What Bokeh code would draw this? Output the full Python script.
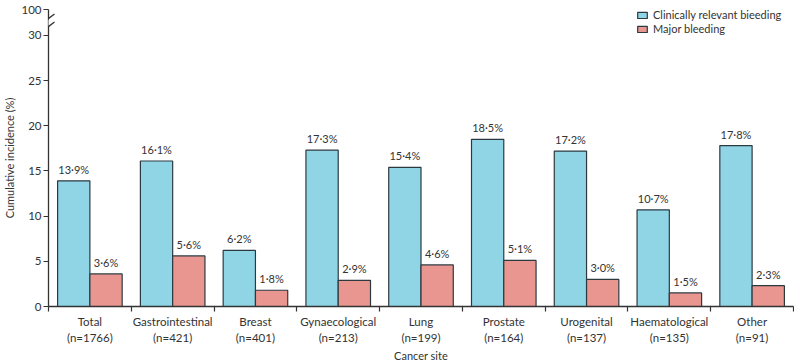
from bokeh.plotting import figure
from bokeh.models import (ColumnDataSource, Range1d, FixedTicker, CustomJSTickFormatter,
                          Legend, LegendItem, Arrow, PolyAnnotation)
from bokeh.transform import dodge
from bokeh.core.properties import value
from bokeh.embed import file_html
from bokeh.resources import INLINE

# ---- data ----
categories = ["Total", "Gastrointestinal", "Breast", "Gynaecological", "Lung",
              "Prostate", "Urogenital", "Haematological", "Other"]
n_patients = [1766, 421, 401, 213, 199, 164, 137, 135, 91]
clinically_relevant = [13.9, 16.1, 6.2, 17.3, 15.4, 18.5, 17.2, 10.7, 17.8]
major_bleeding = [3.6, 5.6, 1.8, 2.9, 4.6, 5.1, 3.0, 1.5, 2.3]
series_names = ["Clinically relevant bieeding", "Major bleeding"]
y_ticks = [0, 5, 10, 15, 20, 25, 30, 32.86]
y_tick_labels = ["0", "5", "10", "15", "20", "25", "30", "100"]

FONT = "Lato"
BLUE = "#8fd5e6"
RED = "#e8968f"
EDGE = "#2c3a40"
TXT = "#333333"

def fmt(v):
    return f"{v:.1f}".replace(".", "\u00b7") + "%"

x_labels = [f"{c}\n(n={n})" for c, n in zip(categories, n_patients)]

src = ColumnDataSource(dict(
    xc=[i + 0.5 for i in range(len(categories))],
    crb=clinically_relevant,
    mb=major_bleeding,
    crb_lbl=[fmt(v) for v in clinically_relevant],
    mb_lbl=[fmt(v) for v in major_bleeding],
))

FW, FH = 745, 297
p = figure(frame_width=FW, frame_height=FH,
           x_range=Range1d(0, len(categories)), y_range=Range1d(0, y_ticks[-1]),
           output_backend="svg", toolbar_location=None,
           min_border_left=38, min_border_right=1, min_border_top=9, min_border_bottom=5,
           outline_line_color=None, background_fill_color="white")
p.xgrid.visible = False
p.ygrid.visible = False

r1 = p.vbar(x=dodge("xc", -0.195, range=p.x_range), top="crb", width=0.39, source=src,
            fill_color=BLUE, line_color=EDGE, line_width=1.2)
r2 = p.vbar(x=dodge("xc", 0.195, range=p.x_range), top="mb", width=0.39, source=src,
            fill_color=RED, line_color=EDGE, line_width=1.2)

for col, lbl, off in [("crb", "crb_lbl", -0.195), ("mb", "mb_lbl", 0.195)]:
    p.text(x=dodge("xc", off, range=p.x_range), y=col, text=lbl, source=src,
           y_offset=-5, text_align="center", text_baseline="bottom",
           text_font=value(FONT), text_font_size="11px", text_color=TXT)

# x axis
xa = p.xaxis[0]
xa.ticker = FixedTicker(ticks=[i + 0.5 for i in range(len(categories))],
                        minor_ticks=list(range(len(categories) + 1)))
xa.formatter = CustomJSTickFormatter(args=dict(labels=x_labels),
                                     code="return labels[Math.floor(tick)];")
xa.major_tick_line_color = None
xa.major_tick_out = 0
xa.major_tick_in = 0
xa.minor_tick_out = 5
xa.minor_tick_in = 0
xa.minor_tick_line_color = TXT
xa.minor_tick_line_width = 1.2
xa.axis_line_color = TXT
xa.axis_line_width = 1.3
xa.major_label_standoff = 3
xa.major_label_text_font = FONT
xa.major_label_text_font_size = "11.5px"
xa.major_label_text_color = TXT
xa.major_label_text_line_height = 1.3
xa.axis_label = "Cancer site"
xa.axis_label_standoff = 2
xa.axis_label_text_font = FONT
xa.axis_label_text_font_size = "11px"
xa.axis_label_text_font_style = "normal"
xa.axis_label_text_color = TXT

# y axis
ya = p.yaxis[0]
ya.ticker = FixedTicker(ticks=y_ticks, minor_ticks=[])
ya.formatter = CustomJSTickFormatter(args=dict(t=y_ticks, l=y_tick_labels),
    code="const i = t.findIndex(v => Math.abs(v - tick) < 1e-6); return i >= 0 ? l[i] : '';")
ya.major_tick_out = 5
ya.major_tick_in = 0
ya.major_tick_line_color = TXT
ya.major_tick_line_width = 1.2
ya.axis_line_color = TXT
ya.axis_line_width = 1.3
ya.major_label_standoff = 2
ya.major_label_text_font = FONT
ya.major_label_text_font_size = "11.5px"
ya.major_label_text_color = TXT
ya.axis_label = "Cumulative incidence (%)"
ya.axis_label_standoff = 2
ya.axis_label_text_font = FONT
ya.axis_label_text_font_size = "11px"
ya.axis_label_text_font_style = "normal"
ya.axis_label_text_color = TXT

# axis break marks
c1, c2 = FH - 9, FH - 17
p.add_layout(PolyAnnotation(xs=[-3, 3, 3, -3],
                            ys=[c2 - 2.25 + 1, c2 + 2.25 + 1, c1 + 2.25 - 1, c1 - 2.25 - 1],
                            xs_units="screen", ys_units="screen",
                            fill_color="white", fill_alpha=1, line_color=None))
for c in (c1, c2):
    p.add_layout(Arrow(end=None, x_start=-6, y_start=c - 4.5, x_end=6, y_end=c + 4.5,
                       start_units="screen", end_units="screen",
                       line_color=TXT, line_width=1.3))

legend = Legend(items=[LegendItem(label=series_names[0], renderers=[r1]),
                       LegendItem(label=series_names[1], renderers=[r2])],
                location=(588, FH - 26), padding=0, margin=0, spacing=1,
                glyph_width=12, glyph_height=8, label_height=11, label_standoff=5,
                label_text_font=FONT, label_text_font_size="11px", label_text_color=TXT,
                border_line_color=None, background_fill_alpha=0)
p.add_layout(legend)

open("out.html", "w").write(file_html(p, INLINE))
